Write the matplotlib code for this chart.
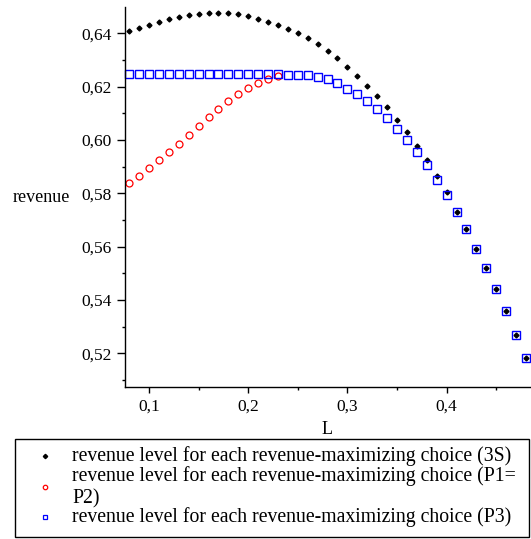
import matplotlib
matplotlib.use("Agg")
import matplotlib.pyplot as plt
from matplotlib.ticker import MultipleLocator, FuncFormatter
from matplotlib.lines import Line2D
from matplotlib.patches import Rectangle

# L values, 0.08 .. 0.48 step 0.01
L = [0.08, 0.09, 0.10, 0.11, 0.12, 0.13, 0.14, 0.15, 0.16, 0.17, 0.18,
     0.19, 0.20, 0.21, 0.22, 0.23, 0.24, 0.25, 0.26, 0.27, 0.28, 0.29,
     0.30, 0.31, 0.32, 0.33, 0.34, 0.35, 0.36, 0.37, 0.38, 0.39, 0.40,
     0.41, 0.42, 0.43, 0.44, 0.45, 0.46, 0.47, 0.48]

# revenue (3S)
rev_3s = [0.6409, 0.6420, 0.6433, 0.6444, 0.6454, 0.6463, 0.6469, 0.6473,
          0.6476, 0.6477, 0.6476, 0.6472, 0.6465, 0.6455, 0.6444, 0.6432,
          0.6418, 0.6400, 0.6382, 0.6360, 0.6334, 0.6307, 0.6275, 0.6239,
          0.6202, 0.6166, 0.6124, 0.6077, 0.6031, 0.5979, 0.5925, 0.5866,
          0.5804, 0.5731, 0.5665, 0.5591, 0.5519, 0.5440, 0.5358, 0.5269,
          0.5181]

# revenue (P1=P2), only up to L = 0.23
L_p12 = L[:16]
rev_p12 = [0.5838, 0.5867, 0.5894, 0.5924, 0.5955, 0.5987, 0.6018, 0.6052,
           0.6085, 0.6115, 0.6146, 0.6172, 0.6194, 0.6215, 0.6229, 0.6241]

# revenue (P3)
rev_p3 = [0.6246, 0.6246, 0.6246, 0.6246, 0.6246, 0.6246, 0.6246, 0.6246,
          0.6246, 0.6246, 0.6246, 0.6246, 0.6246, 0.6246, 0.6246, 0.6246,
          0.6245, 0.6245, 0.6244, 0.6238, 0.6229, 0.6213, 0.6191, 0.6171,
          0.6146, 0.6115, 0.6084, 0.6041, 0.6000, 0.5954, 0.5907, 0.5850,
          0.5794, 0.5730, 0.5665, 0.5591, 0.5519, 0.5440, 0.5358, 0.5269,
          0.5181]

labels = ["revenue level for each revenue-maximizing choice (3S)",
          "revenue level for each revenue-maximizing choice (P1=\nP2)",
          "revenue level for each revenue-maximizing choice (P3)"]

plt.rcParams['font.family'] = ['Liberation Serif', 'DejaVu Serif']

W, H = 531, 539
fig = plt.figure(figsize=(W / 100, H / 100), dpi=100)

# axes box in pixels (left, top, right, bottom)
x0, y0, x1, y1 = 125, 7, 531, 386.7
ax = fig.add_axes([x0 / W, 1 - y1 / H, (x1 - x0) / W, (y1 - y0) / H])

ax.plot(L, rev_3s, linestyle='none', marker='D', ms=2.5, color='black',
        mec='black', clip_on=False)
ax.plot(L_p12, rev_p12, linestyle='none', marker='o', ms=5, mfc='none',
        mec='#ff0000', mew=0.9, clip_on=False)
ax.plot(L, rev_p3, linestyle='none', marker='s', ms=5.5, mfc='none',
        mec='#0000ff', mew=1.0, clip_on=False)

ax.set_xlim(0.0758, 0.4851)
ax.set_ylim(0.5075, 0.6499)

for s in ['top', 'right']:
    ax.spines[s].set_visible(False)
for s in ['left', 'bottom']:
    ax.spines[s].set_linewidth(1.0)

ax.xaxis.set_major_locator(MultipleLocator(0.1))
ax.xaxis.set_minor_locator(MultipleLocator(0.05))
ax.yaxis.set_major_locator(MultipleLocator(0.02))
ax.yaxis.set_minor_locator(MultipleLocator(0.01))
ax.xaxis.set_major_formatter(FuncFormatter(lambda v, p: ('%.1f' % v).replace('.', ',')))
ax.yaxis.set_major_formatter(FuncFormatter(lambda v, p: ('%.2f' % v).replace('.', ',')))

ax.tick_params(axis='x', which='major', direction='out', length=4.5, width=1,
               pad=4, labelsize=12.5)
ax.tick_params(axis='y', which='major', direction='out', length=5.8, width=1,
               pad=4, labelsize=12.5)
ax.tick_params(which='minor', direction='out', length=2.3, width=1)

ax.set_xlabel('L', fontsize=13)
ax.xaxis.set_label_coords((327 - x0) / (x1 - x0), (y1 - 429) / (y1 - y0))
ax.xaxis.label.set_va('center')
ax.set_ylabel('revenue', fontsize=13, rotation=0, ha='center', va='center')
ax.yaxis.set_label_coords((41 - x0) / (x1 - x0), (y1 - 198) / (y1 - y0))

# legend box drawn like the original
fig.patches.append(Rectangle((15 / W, 1 - 537.3 / H), (529.3 - 15) / W,
                             (537.3 - 439.3) / H, transform=fig.transFigure,
                             fill=False, edgecolor='black', lw=1.0))
row_y = [456, 487, 517]
handles = [dict(marker='D', ms=2.2, color='black', mfc='black'),
           dict(marker='o', ms=3.2, mfc='none', mec='#ff0000', mew=0.9),
           dict(marker='s', ms=3.5, mfc='none', mec='#0000ff', mew=0.9)]
for yy, lab, hs in zip(row_y, labels, handles):
    fig.add_artist(Line2D([45 / W], [1 - yy / H], linestyle='none',
                          transform=fig.transFigure, **hs))
    fig.text(72 / W, 1 - yy / H, lab, fontsize=14.2, ha='left', va='center',
             linespacing=1.2)

fig.savefig('out.png', dpi=100)
